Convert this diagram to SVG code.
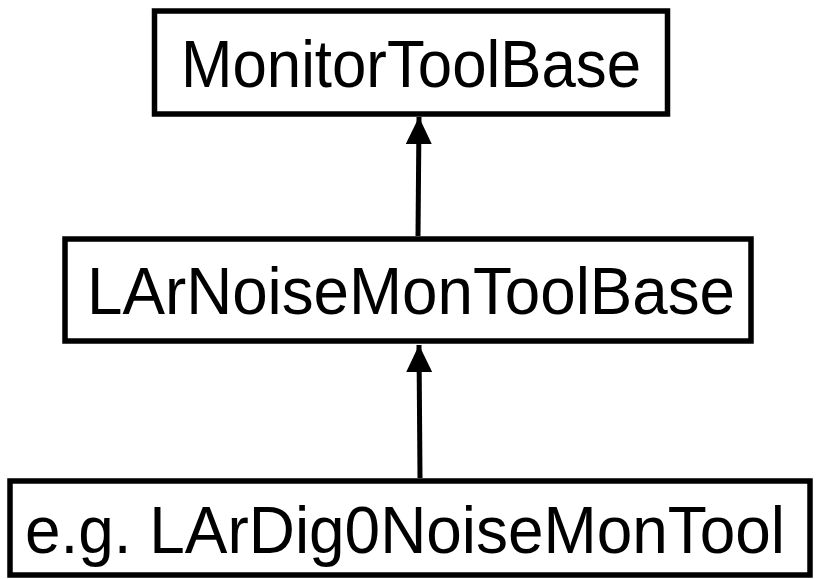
<svg xmlns="http://www.w3.org/2000/svg" width="821" height="579" viewBox="0 0 821 579">
<defs>
<style>
.box{fill:#fff;stroke:#000;stroke-width:5.5}
.lbl{font-family:"Liberation Sans",Arial,Helvetica,sans-serif;font-size:67px;fill:#000;text-anchor:middle}
.edge{stroke:#000;stroke-width:5;fill:none}
</style>
<marker id="ah" markerUnits="userSpaceOnUse" markerWidth="27" markerHeight="28" refX="27" refY="13" orient="auto">
<path d="M0,0 L27,13 L0,26 Z" fill="#000"/>
</marker>
</defs>
<rect width="821" height="579" fill="#fff"/>
<g id="edges">
<line class="edge" x1="418" y1="236" x2="419" y2="117" marker-end="url(#ah)"/>
<line class="edge" x1="420" y1="478" x2="419" y2="345" marker-end="url(#ah)"/>
</g>
<g id="n1">
<rect class="box" x="154.5" y="11" width="513" height="103"/>
<text class="lbl" x="411" y="87" textLength="460" lengthAdjust="spacingAndGlyphs">MonitorToolBase</text>
</g>
<g id="n2">
<rect class="box" x="65" y="239" width="686" height="102"/>
<text class="lbl" x="411" y="314" textLength="648" lengthAdjust="spacingAndGlyphs">LArNoiseMonToolBase</text>
</g>
<g id="n3">
<rect class="box" x="10" y="481" width="800" height="94"/>
<text class="lbl" x="405" y="553" textLength="760" lengthAdjust="spacingAndGlyphs">e.g. LArDig0NoiseMonTool</text>
</g>
</svg>
